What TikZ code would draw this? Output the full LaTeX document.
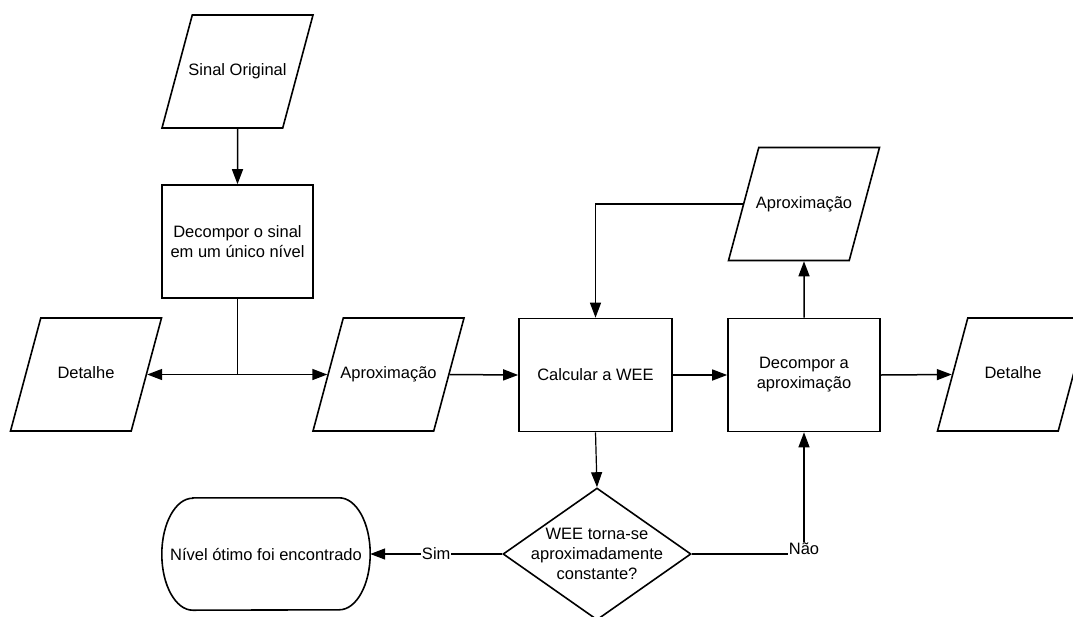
\documentclass[tikz,border=0pt]{standalone}
\usepackage{fontspec}
\setmainfont{Liberation Sans}
\usetikzlibrary{shapes.geometric,arrows.meta,calc}

\begin{document}
\begin{tikzpicture}[x=1pt,y=-1pt,
    every node/.style={font=\fontsize{16.5}{20}\selectfont},
    borda/.style={line width=1.6pt},
    caixa/.style={borda, draw, rectangle, minimum width=151pt, minimum height=113pt, align=center},
    dado/.style={borda, draw, trapezium, trapezium left angle=75, trapezium right angle=105,
        trapezium stretches body=true, minimum width=151pt, text height=12pt, text depth=4pt,
        inner xsep=-5pt, inner ysep=48.5pt},
    decisao/.style={borda, draw, diamond, minimum width=188pt, minimum height=132pt, inner sep=-15pt, align=center},
    seta/.style={line width=1.5pt, -{Triangle[length=15pt,width=11pt]}},
    linha/.style={line width=1.5pt},
    rotulo/.style={fill=white, inner sep=1pt}]
    \useasboundingbox (0,0) rectangle (1073,616);
    \clip (0,0) rectangle (1073,616);
    \fill[white] (0,0) rectangle (1073,616);
    % blocos
    \node[dado] (sinal) at (237.5,71.5) {Sinal Original};
    \node[caixa] (nivel) at (237.5,241.5) {Decompor o sinal\\em um único nível};
    \node[dado] (det1) at (86,374.5) {Detalhe};
    \node[dado] (aprox1) at (388.5,374.5) {Aproximação};
    \node[caixa, minimum width=153pt] (wee) at (595.5,375) {Calcular a WEE};
    \node[caixa, minimum width=152pt] (decomp) at (804,375) {Decompor a\\aproximação};
    \node[dado] (aprox2) at (804,204) {Aproximação};
    \node[dado] (det2) at (1013,374.5) {Detalhe};
    \node[decisao] (teste) at (597,554) {WEE torna-se\\aproximadamente\\constante?};
    \node[minimum width=208pt, minimum height=112pt] (fim) at (266,554) {Nível ótimo foi encontrado};
    \draw[borda] ([xshift=31pt]fim.north west) -- ([xshift=-31pt]fim.north east)
        arc[start angle=90, end angle=-90, x radius=31pt, y radius=56pt]
        -- ([xshift=31pt]fim.south west)
        arc[start angle=270, end angle=90, x radius=31pt, y radius=56pt] -- cycle;
    % ligacoes
    \coordinate (ramo) at (nivel.south |- det1.east);
    \draw[seta] (sinal.south) -- (nivel.north);
    \draw[linha] (nivel.south) -- (ramo);
    \draw[seta] (ramo) -- (det1.east);
    \draw[seta] (ramo) -- (aprox1.west);
    \draw[seta] (aprox1.east) -- (wee.west);
    \draw[seta] (wee.east) -- (decomp.west);
    \draw[seta] (decomp.east) -- (det2.west);
    \draw[seta] (decomp.north) -- (aprox2.south);
    \draw[seta, line width=1.2pt] (aprox2.west) -| (wee.north);
    \draw[seta, line width=1.2pt] (wee.south) -- (teste.north);
    \draw[seta] (teste.west) -- node[rotulo] {Sim} (fim.east);
    \draw[seta, line width=1.2pt] (teste.east) -| node[rotulo, pos=0.5, yshift=5pt] {Não} (decomp.south);
\end{tikzpicture}
\end{document}
